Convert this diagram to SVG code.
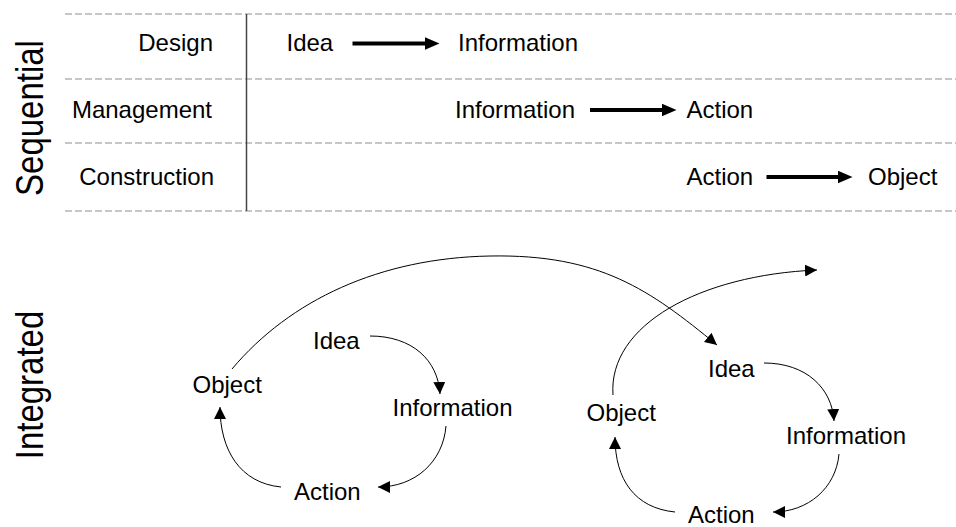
<svg xmlns="http://www.w3.org/2000/svg" width="956" height="527" viewBox="0 0 956 527">
  <style>
    text { font-family: "Liberation Sans", Arial, sans-serif; fill: #000; }
    .lbl { font-size: 24px; }
    .side { font-size: 33px; }
    .grid { stroke: #b4b4b4; stroke-width: 1.5; stroke-dasharray: 7 3; fill: none; }
    .divider { stroke: #444; stroke-width: 1.5; fill: none; }
    .thick { stroke: #000; stroke-width: 4; fill: none; marker-end: url(#bigHead); }
    .thin { stroke: #000; stroke-width: 1; fill: none; marker-end: url(#smallHead); }
  </style>
  <defs>
    <marker id="bigHead" markerUnits="userSpaceOnUse" viewBox="0 0 15 13" markerWidth="15" markerHeight="13" refX="0.5" refY="6.5" orient="auto">
      <path d="M0,0 L15,6.5 L0,13 z" fill="#000"/>
    </marker>
    <marker id="smallHead" markerUnits="userSpaceOnUse" viewBox="0 0 12 12" markerWidth="12" markerHeight="12" refX="12" refY="6" orient="auto">
      <path d="M0,0 L12,6 L0,12 z" fill="#000"/>
    </marker>
  </defs>

  <rect width="956" height="527" fill="#fff"/>

  <!-- grid -->
  <g id="grid">
    <line class="grid" x1="65" y1="14" x2="956" y2="14"/>
    <line class="grid" x1="65" y1="79" x2="956" y2="79"/>
    <line class="grid" x1="65" y1="143" x2="956" y2="143"/>
    <line class="grid" x1="65" y1="211" x2="956" y2="211"/>
    <line class="divider" x1="246.5" y1="14" x2="246.5" y2="211"/>
  </g>

  <!-- side titles -->
  <g id="title-sequential">
    <text class="side" text-anchor="middle" transform="translate(43,118) rotate(-90) scale(1,1.18)">Sequential</text>
  </g>
  <g id="title-integrated">
    <text class="side" text-anchor="middle" transform="translate(43,385) rotate(-90) scale(1,1.18)">Integrated</text>
  </g>

  <!-- row labels -->
  <g id="row-design"><text class="lbl" x="213" y="51" text-anchor="end">Design</text></g>
  <g id="row-management"><text class="lbl" x="212" y="118" text-anchor="end">Management</text></g>
  <g id="row-construction"><text class="lbl" x="214" y="185" text-anchor="end">Construction</text></g>

  <!-- sequential nodes -->
  <g id="seq-idea"><text class="lbl" x="286.5" y="51">Idea</text></g>
  <g id="seq-information-1"><text class="lbl" x="458" y="51">Information</text></g>
  <g id="seq-information-2"><text class="lbl" x="455" y="118">Information</text></g>
  <g id="seq-action-1"><text class="lbl" x="686.5" y="118">Action</text></g>
  <g id="seq-action-2"><text class="lbl" x="686.5" y="185">Action</text></g>
  <g id="seq-object"><text class="lbl" x="868" y="185">Object</text></g>

  <!-- integrated cycle 1 -->
  <g id="c1-idea"><text class="lbl" x="313" y="349">Idea</text></g>
  <g id="c1-information"><text class="lbl" x="392.5" y="416">Information</text></g>
  <g id="c1-action"><text class="lbl" x="294" y="500">Action</text></g>
  <g id="c1-object"><text class="lbl" x="192.5" y="393">Object</text></g>

  <!-- integrated cycle 2 -->
  <g id="c2-idea"><text class="lbl" x="708" y="377">Idea</text></g>
  <g id="c2-information"><text class="lbl" x="786" y="444">Information</text></g>
  <g id="c2-action"><text class="lbl" x="688" y="523">Action</text></g>
  <g id="c2-object"><text class="lbl" x="586.5" y="421">Object</text></g>

  <!-- connectors -->
  <g id="connectors">
    <line class="thick" x1="352.5" y1="43.5" x2="425" y2="43.5"/>
    <line class="thick" x1="590" y1="110" x2="662" y2="110"/>
    <line class="thick" x1="766.5" y1="177" x2="838" y2="177"/>

    <path class="thin" d="M370,336 C412,336 438,360 440,394"/>
    <path class="thin" d="M446,426 C443,462 415,487 378,487"/>
    <path class="thin" d="M281,487 C240,483 220,450 220,407"/>
    <path class="thin" d="M232,369 C290,300 380,258 490,256 S650,290 717,345"/>

    <path class="thin" d="M764,363 C806,363 832,388 834,421"/>
    <path class="thin" d="M839,454 C836,488 808,512 773,512"/>
    <path class="thin" d="M675,512 C635,508 615,480 615,437"/>
    <path class="thin" d="M613,395 C608,325 700,275 817,270"/>
  </g>
</svg>
